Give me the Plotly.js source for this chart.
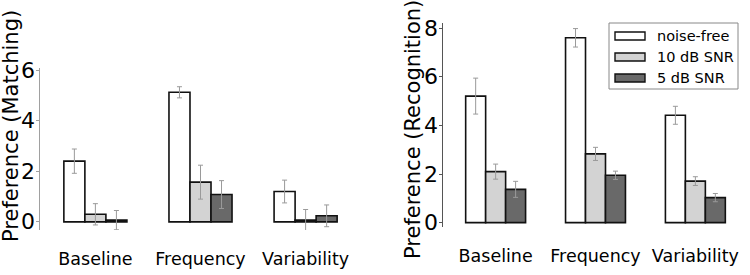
<!DOCTYPE html>
<html>
<head>
<meta charset="utf-8">
<script src="https://cdn.plot.ly/plotly-3.0.1.min.js"></script>
<style>html,body{margin:0;padding:0;background:#fff;}#chart{width:750px;height:275px;}</style>
</head>
<body>
<div id="chart"></div>
<script>
const categories = ['Baseline', 'Frequency', 'Variability'];
const seriesNames = ['noise-free', '10 dB SNR', '5 dB SNR'];
const seriesColors = ['#ffffff', '#d3d3d3', '#696969'];

// Left panel: Preference (Matching)
const matchNoiseFree = [2.40, 5.12, 1.20];
const matchNoiseFreeErr = [0.48, 0.22, 0.45];
const match10dB = [0.30, 1.57, 0.07];
const match10dBErr = [0.42, 0.67, 0.42];
const match5dB = [0.07, 1.08, 0.24];
const match5dBErr = [0.38, 0.55, 0.43];

// Right panel: Preference (Recognition)
const recogNoiseFree = [5.21, 7.61, 4.42];
const recogNoiseFreeErr = [0.74, 0.38, 0.37];
const recog10dB = [2.10, 2.83, 1.71];
const recog10dBErr = [0.31, 0.27, 0.18];
const recog5dB = [1.37, 1.95, 1.03];
const recog5dBErr = [0.33, 0.17, 0.17];

const yTicksMatching = [0, 2, 4, 6];
const yTicksRecognition = [0, 2, 4, 6, 8];

const FONT = 'DejaVu Sans, Liberation Sans, sans-serif';

function barTrace(vals, errs, idx, xa, ya) {
  return {
    type: 'bar', x: categories, y: vals, name: seriesNames[idx],
    xaxis: xa, yaxis: ya, showlegend: false,
    marker: {color: seriesColors[idx], line: {color: '#111', width: 1.6}},
    error_y: {type: 'data', array: errs, visible: true, color: '#9a9a9a', thickness: 1, width: 2.5},
    hoverinfo: 'skip'
  };
}

const data = [
  barTrace(matchNoiseFree, matchNoiseFreeErr, 0, 'x', 'y'),
  barTrace(match10dB, match10dBErr, 1, 'x', 'y'),
  barTrace(match5dB, match5dBErr, 2, 'x', 'y'),
  barTrace(recogNoiseFree, recogNoiseFreeErr, 0, 'x2', 'y2'),
  barTrace(recog10dB, recog10dBErr, 1, 'x2', 'y2'),
  barTrace(recog5dB, recog5dBErr, 2, 'x2', 'y2')
];

const W = 750, H = 275;
const px = v => v / W;
const py = v => 1 - v / H;

// Legend built from series names/colors
const shapes = [{
  type: 'rect', xref: 'paper', yref: 'paper',
  x0: px(609), x1: px(738), y0: py(89), y1: py(23),
  line: {color: '#888', width: 1}, fillcolor: 'rgba(0,0,0,0)'
}];
const annotations = [];
seriesNames.forEach((name, i) => {
  const cy = 36 + i * 21;
  shapes.push({
    type: 'rect', xref: 'paper', yref: 'paper',
    x0: px(615), x1: px(645), y0: py(cy + 4), y1: py(cy - 4),
    line: {color: '#111', width: 1.4}, fillcolor: seriesColors[i]
  });
  annotations.push({
    xref: 'paper', yref: 'paper', x: px(655), y: py(cy), xanchor: 'left', yanchor: 'middle',
    text: name, showarrow: false, font: {family: FONT, size: 14.5, color: '#000'}
  });
});

// Y tick labels placed on the library's y scales
yTicksMatching.forEach(v => annotations.push({
  xref: 'paper', yref: 'y', x: px(37), y: v, xanchor: 'right', yanchor: 'middle',
  text: String(v), showarrow: false, font: {family: FONT, size: 22, color: '#000'}
}));
yTicksRecognition.forEach(v => annotations.push({
  xref: 'paper', yref: 'y2', x: px(440), y: v, xanchor: 'right', yanchor: 'middle',
  text: String(v), showarrow: false, font: {family: FONT, size: 22, color: '#000'}
}));

annotations.push({
  xref: 'paper', yref: 'paper', x: px(11), y: py(126), xanchor: 'center', yanchor: 'middle',
  text: 'Preference (Matching)', textangle: -90, showarrow: false,
  font: {family: FONT, size: 21, color: '#000'}
});
annotations.push({
  xref: 'paper', yref: 'paper', x: px(413), y: py(130), xanchor: 'center', yanchor: 'middle',
  text: 'Preference (Recognition)', textangle: -90, showarrow: false,
  font: {family: FONT, size: 21, color: '#000'}
});

const xCommon = {
  type: 'category', range: [-0.527, 2.527], showline: false, showgrid: false, zeroline: false,
  ticks: '', tickfont: {family: FONT, size: 17.5, color: '#000'}, ticklabelstandoff: 16, fixedrange: true
};
const yCommon = {
  showline: true, showgrid: false, zeroline: false, ticks: 'outside', ticklen: 3, tickwidth: 1,
  showticklabels: false, fixedrange: true
};

const layout = {
  width: W, height: H, margin: {l: 0, r: 0, t: 0, b: 0},
  paper_bgcolor: '#fff', plot_bgcolor: '#fff',
  barmode: 'group', bargap: 0.4, bargroupgap: 0,
  showlegend: false,
  xaxis: Object.assign({}, xCommon, {domain: [px(40), px(361)], anchor: 'y'}),
  yaxis: Object.assign({}, yCommon, {domain: [1 - 230 / H, 1 - 68 / H], range: [-0.32, 6.08], tickvals: yTicksMatching, anchor: 'x', linecolor: '#a0a0a0', linewidth: 1.5, tickcolor: '#a0a0a0'}),
  xaxis2: Object.assign({}, xCommon, {domain: [px(443), px(748)], anchor: 'y2'}),
  yaxis2: Object.assign({}, yCommon, {domain: [1 - 227 / H, 1 - 23 / H], range: [-0.18, 8.22], tickvals: yTicksRecognition, anchor: 'x2', linecolor: '#555', linewidth: 1, tickcolor: '#555'}),
  shapes: shapes,
  annotations: annotations
};

Plotly.newPlot('chart', data, layout, {displayModeBar: false, staticPlot: true});
</script>
</body>
</html>
